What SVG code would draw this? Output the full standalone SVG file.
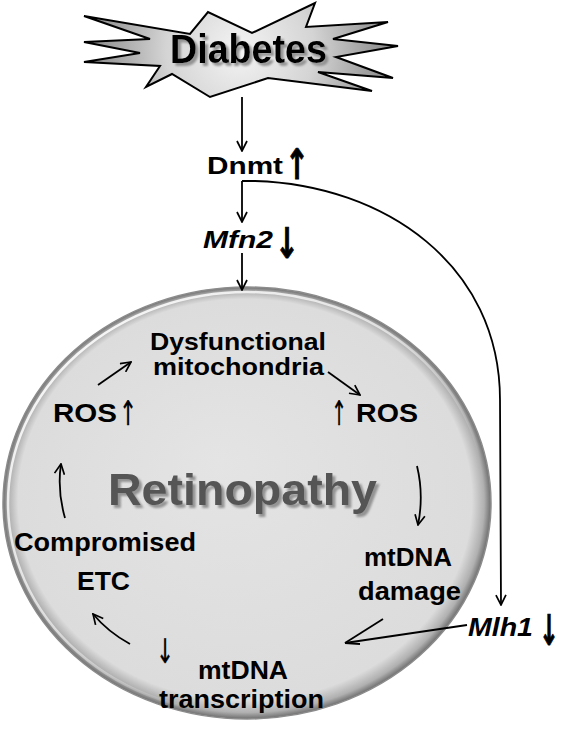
<svg xmlns="http://www.w3.org/2000/svg" width="565" height="730" viewBox="0 0 565 730">
<defs>
<style>
.t{font-family:"Liberation Sans",Arial,sans-serif;font-weight:bold;fill:#000}
.it{font-style:italic}
.ar{font-family:"DejaVu Sans",sans-serif;fill:#000;stroke:#000;stroke-width:0.3}
.arb{font-family:"DejaVu Sans",sans-serif;font-weight:bold;fill:#000;stroke:#000;stroke-width:0.9}
.ln{fill:none;stroke:#000;stroke-width:1.8}
</style>
<marker id="ah" viewBox="0 0 12 12" refX="11" refY="6" markerWidth="12" markerHeight="12" markerUnits="userSpaceOnUse" orient="auto">
<path d="M1,1 L11,6 L1,11" fill="none" stroke="#000" stroke-width="1.7"/>
</marker>
<radialGradient id="starG" cx="240" cy="50" r="165" gradientUnits="userSpaceOnUse">
<stop offset="0" stop-color="#f4f4f4"/>
<stop offset="0.45" stop-color="#d4d4d4"/>
<stop offset="1" stop-color="#7c7c7c"/>
</radialGradient>
<radialGradient id="ellG" cx="0.5" cy="0.5" r="0.5" fx="0.44" fy="0.4">
<stop offset="0" stop-color="#e4e4e4"/>
<stop offset="0.93" stop-color="#dcdcdc"/>
<stop offset="0.975" stop-color="#b0b0b0"/>
<stop offset="1" stop-color="#6e6e6e"/>
</radialGradient>
<linearGradient id="hiG" x1="0" y1="0" x2="1" y2="1">
<stop offset="0" stop-color="#fff" stop-opacity="1"/>
<stop offset="0.45" stop-color="#fff" stop-opacity="0.6"/>
<stop offset="0.7" stop-color="#fff" stop-opacity="0"/>
</linearGradient>
<filter id="sh" x="-10%" y="-20%" width="130%" height="150%">
<feDropShadow dx="3" dy="3" stdDeviation="1.2" flood-color="#8a8a8a" flood-opacity="0.9"/>
</filter>
</defs>
<rect width="565" height="730" fill="#fff"/>

<g id="retinopathy">
<ellipse cx="247" cy="503" rx="244" ry="216" fill="url(#ellG)" stroke="#8c8c8c" stroke-width="1.5"/>
<ellipse cx="247" cy="503" rx="239" ry="211" fill="none" stroke="url(#hiG)" stroke-width="2.5"/>
<text class="t" x="108" y="505" font-size="45" textLength="269" lengthAdjust="spacingAndGlyphs" style="fill:#555" filter="url(#sh)">Retinopathy</text>
</g>

<g id="diabetes">
<polygon points="84,16 190,34 208,12 252,33 315,3 306,27 388,22 333,39 398,46 336,57 393,78 318,72 372,91 268,78 210,97 172,74 146,87 160,66 84,62 140,53 84,42 150,39" fill="url(#starG)" stroke="#000" stroke-width="2" stroke-linejoin="miter"/>
<text class="t" x="170" y="63" font-size="41" textLength="157" lengthAdjust="spacingAndGlyphs" filter="url(#sh)">Diabetes</text>
</g>

<g id="dnmt">
<text class="t" x="207" y="174" font-size="24" textLength="76" lengthAdjust="spacingAndGlyphs">Dnmt</text>
<text class="arb" x="285" y="179" font-size="42" textLength="24" lengthAdjust="spacingAndGlyphs">↑</text>
</g>

<g id="mfn2">
<text class="t it" x="203" y="248" font-size="24" textLength="70" lengthAdjust="spacingAndGlyphs">Mfn2</text>
<text class="arb" x="275" y="258" font-size="42" textLength="24" lengthAdjust="spacingAndGlyphs">↓</text>
</g>

<g id="dysfunctional">
<text class="t" x="150" y="350" font-size="24" textLength="176" lengthAdjust="spacingAndGlyphs">Dysfunctional</text>
<text class="t" x="153" y="375" font-size="24" textLength="171" lengthAdjust="spacingAndGlyphs">mitochondria</text>
</g>

<g id="ros-left">
<text class="t" x="53" y="422" font-size="25" textLength="64" lengthAdjust="spacingAndGlyphs">ROS</text>
<text class="ar" x="119" y="425" font-size="34" textLength="18" lengthAdjust="spacingAndGlyphs">↑</text>
</g>

<g id="ros-right">
<text class="ar" x="331" y="425" font-size="34" textLength="16" lengthAdjust="spacingAndGlyphs">↑</text>
<text class="t" x="356" y="422" font-size="25" textLength="62" lengthAdjust="spacingAndGlyphs">ROS</text>
</g>

<g id="mtdna-damage">
<text class="t" x="364" y="566" font-size="25" textLength="88" lengthAdjust="spacingAndGlyphs">mtDNA</text>
<text class="t" x="358" y="600" font-size="25" textLength="103" lengthAdjust="spacingAndGlyphs">damage</text>
</g>

<g id="compromised-etc">
<text class="t" x="14" y="551" font-size="25" textLength="182" lengthAdjust="spacingAndGlyphs">Compromised</text>
<text class="t" x="77" y="590" font-size="25" textLength="53" lengthAdjust="spacingAndGlyphs">ETC</text>
</g>

<g id="mtdna-transcription">
<text class="ar" x="156" y="663" font-size="34" textLength="18" lengthAdjust="spacingAndGlyphs">↓</text>
<text class="t" x="198" y="679" font-size="25" textLength="90" lengthAdjust="spacingAndGlyphs">mtDNA</text>
<text class="t" x="159" y="708" font-size="25" textLength="165" lengthAdjust="spacingAndGlyphs">transcription</text>
</g>

<g id="mlh1">
<text class="t it" x="468" y="636" font-size="26" textLength="65" lengthAdjust="spacingAndGlyphs">Mlh1</text>
<text class="arb" x="539" y="645" font-size="42" textLength="20" lengthAdjust="spacingAndGlyphs">↓</text>
</g>

<g id="connectors">
<line class="ln" x1="242" y1="97" x2="242" y2="151" marker-end="url(#ah)"/>
<line class="ln" x1="242" y1="181" x2="242" y2="222" marker-end="url(#ah)"/>
<line class="ln" x1="242" y1="253" x2="242" y2="290" marker-end="url(#ah)"/>
<path class="ln" d="M242,181 L255,181 C385,185 500,265 500,400 L501,605" stroke-width="2" marker-end="url(#ah)"/>
<line class="ln" x1="98" y1="385" x2="131" y2="362" marker-end="url(#ah)"/>
<line class="ln" x1="328" y1="372" x2="360" y2="395" marker-end="url(#ah)"/>
<path class="ln" d="M417,466 Q424,495 418,525" marker-end="url(#ah)"/>
<path class="ln" d="M65,518 Q57,490 61,464" marker-end="url(#ah)"/>
<path class="ln" d="M130,644 Q108,632 93,614" marker-end="url(#ah)"/>
<line class="ln" x1="383" y1="619" x2="345" y2="643"/>
<line class="ln" x1="467" y1="625" x2="345" y2="643"/>
<line class="ln" x1="345" y1="643" x2="360" y2="644"/>
</g>
</svg>
